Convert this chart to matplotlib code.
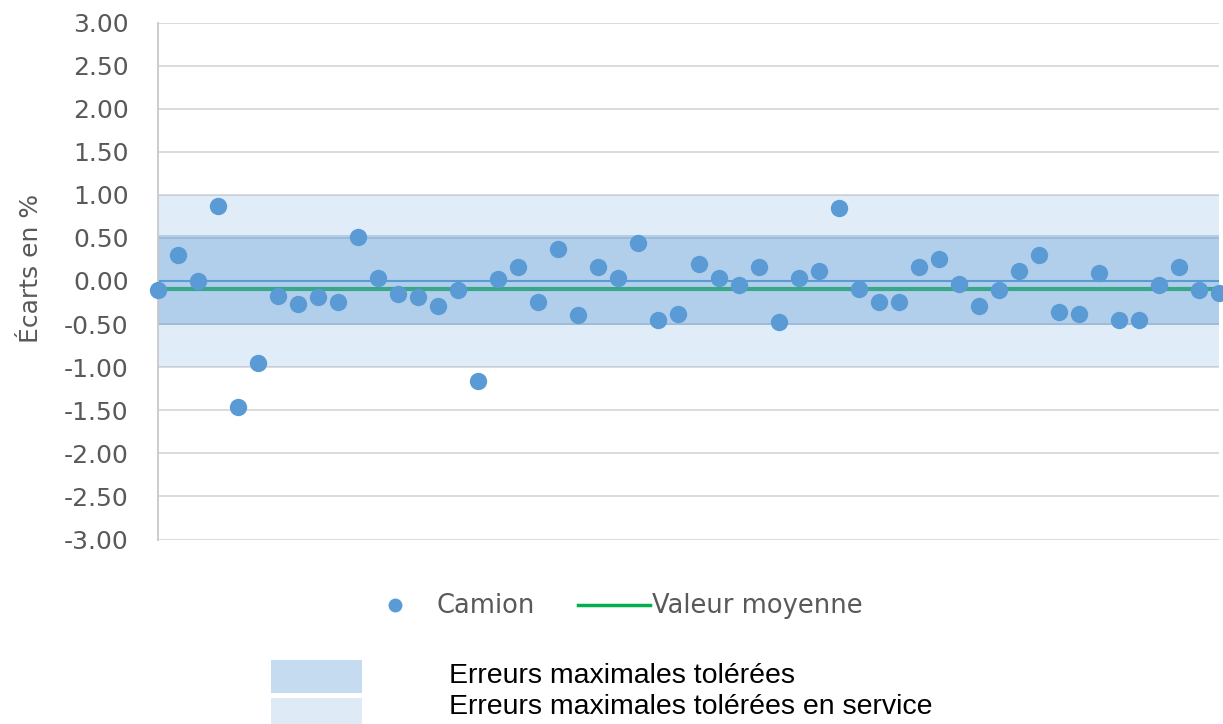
import matplotlib
matplotlib.use("Agg")
import matplotlib.pyplot as plt
from matplotlib.lines import Line2D
from matplotlib.patches import Rectangle

# data
ecarts = [-0.10, 0.30, 0.00, 0.87, -1.46, -0.95, -0.17, -0.27, -0.19, -0.24,
          0.51, 0.04, -0.15, -0.19, -0.29, -0.10, -1.16, 0.02, 0.16, -0.24,
          0.37, -0.40, 0.16, 0.04, 0.44, -0.45, -0.38, 0.20, 0.04, -0.05,
          0.16, -0.48, 0.04, 0.12, 0.85, -0.09, -0.24, -0.24, 0.16, 0.26,
          -0.03, -0.29, -0.10, 0.12, 0.30, -0.36, -0.38, 0.09, -0.45, -0.45,
          -0.05, 0.16, -0.10, -0.14]
mesures = list(range(1, len(ecarts) + 1))
moyenne = -0.09
emt = (-0.51, 0.53)          # erreurs maximales tolerees
emt_service = (-1.0, 1.0)    # erreurs maximales tolerees en service
yticks = [-3.0, -2.5, -2.0, -1.5, -1.0, -0.5, 0.0, 0.5, 1.0, 1.5, 2.0, 2.5, 3.0]

W, H = 1223, 724
fig = plt.figure(figsize=(W / 100, H / 100), dpi=100)

def px(x, y):
    return x / W, 1 - y / H

ax = fig.add_axes([158 / W, 1 - 539.5 / H, (1219 - 158) / W, (539.5 - 22.5) / H])

grey = "#595959"
blue = "#5b9bd5"

ax.set_ylim(-3, 3)
ax.set_xlim(mesures[0], mesures[-1])
ax.set_yticks(yticks)
ax.set_yticklabels([f"{v:.2f}" for v in yticks])
ax.set_xticks([])
ax.tick_params(axis="y", length=0, pad=21, labelsize=18, labelcolor=grey)
ax.grid(axis="y", color="#d9d9d9", lw=1.3, zorder=0)
ax.set_axisbelow(True)
for s in ["top", "right", "bottom"]:
    ax.spines[s].set_visible(False)
ax.spines["left"].set_color("#c8c8c8")
ax.spines["left"].set_linewidth(1.3)

ax.axhspan(emt_service[0], emt_service[1], color=blue, alpha=0.19, lw=0, zorder=1)
ax.axhspan(emt[0], emt[1], color=blue, alpha=0.35, lw=0, zorder=1)
ax.axhline(0, color=blue, lw=1.5, zorder=2)
ax.plot([mesures[0], mesures[-1]], [moyenne, moyenne], color="#3aa68c", lw=3, zorder=3)
ax.plot(mesures, ecarts, "o", ms=12.5, color=blue, mec="none", zorder=4, clip_on=False)

ax.set_ylabel("Écarts en %", fontsize=18, color=grey)
ax.yaxis.set_label_coords(-0.108, 0.525)

# legend row 1
fig.add_artist(Line2D([px(395, 605)[0]], [px(395, 605)[1]], marker="o", ms=10,
                      color=blue, mec="none", transform=fig.transFigure))
fig.text(*px(437, 606), "Camion", fontsize=18.5, color=grey, va="center")
x0, y0 = px(578, 605)
x1, _ = px(650, 605)
fig.add_artist(Line2D([x0, x1], [y0, y0], color="#00b050", lw=2.5,
                      transform=fig.transFigure))
fig.text(*px(652, 606), "Valeur moyenne", fontsize=18.5, color=grey, va="center")

# legend row 2 (bands)
fig.add_artist(Rectangle(px(271, 693), 91 / W, 33 / H, color="#c5dcf0",
                         transform=fig.transFigure, lw=0))
fig.add_artist(Rectangle(px(271, 724), 91 / W, 26 / H, color="#deebf7",
                         transform=fig.transFigure, lw=0))
fig.text(*px(449, 676), "Erreurs maximales tolérées", fontsize=20.5,
         family="Liberation Sans", color="black", va="center")
fig.text(*px(449, 707), "Erreurs maximales tolérées en service", fontsize=20.5,
         family="Liberation Sans", color="black", va="center")

fig.savefig("out.png", dpi=100)
